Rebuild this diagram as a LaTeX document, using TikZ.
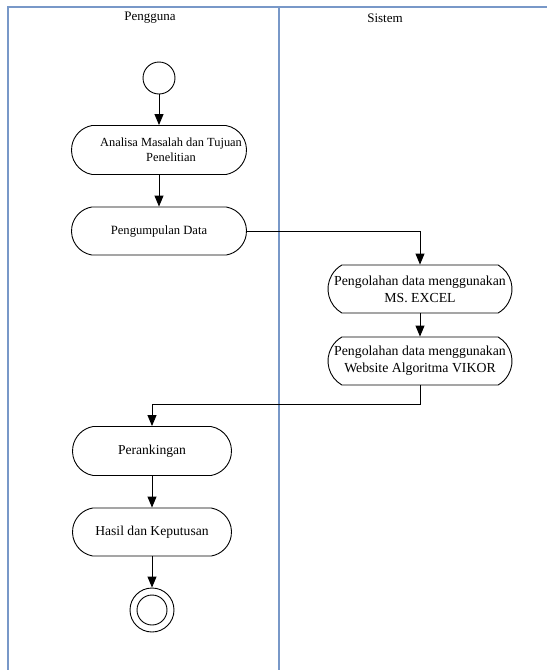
\documentclass[tikz,border=0pt]{standalone}
\usepackage{fontspec}
\setmainfont{Liberation Serif}
\usetikzlibrary{shapes.misc,arrows.meta}
\definecolor{lanec}{RGB}{120,152,200}
\tikzset{
  act/.style={draw=black, line width=0.9pt, rounded rectangle, rounded rectangle arc length=160, inner sep=0pt, align=center},
  actflat/.style={act, rounded rectangle arc length=120},
  flow/.style={draw=black, line width=0.9pt, -{Triangle[width=9pt,length=11pt]}},
  lane/.style={draw=lanec, line width=1.3pt},
  hdr/.style={font=\fontsize{13}{15}\selectfont}
}
\begin{document}
\begin{tikzpicture}[x=1pt,y=-1pt]
\useasboundingbox (0,0) rectangle (547,670);
% swimlanes
\coordinate (tl) at (8,7);
\coordinate (tr) at (547,7);
\coordinate (bl) at (8,670);
\coordinate (tm) at (279,7);
\coordinate (bm) at (279,670);
\draw[lane] (bl) -- (tl) -- (tr);
\draw[lane] (tm) -- (bm);
\node[hdr] (h1) at (150,18) {Pengguna};
\node[hdr] (h2) at (385,18) {Sistem};
% nodes
\node[draw=black, line width=0.9pt, circle, minimum size=32pt, inner sep=0pt] (st) at (159,78) {};
\node[act, minimum width=175pt, minimum height=49pt] (a) at (159,150) {};
\node[align=center, font=\fontsize{12.4}{15}\selectfont] (at) at (171,150) {Analisa Masalah dan Tujuan\\Penelitian};
\node[act, minimum width=175pt, minimum height=48pt, font=\fontsize{12.6}{15}\selectfont] (b) at (159,231) {Pengumpulan Data};
\node[actflat, minimum width=184pt, minimum height=48pt, font=\fontsize{13.8}{17}\selectfont] (c) at (420,289) {Pengolahan data menggunakan\\MS. EXCEL};
\node[actflat, minimum width=184pt, minimum height=48pt, font=\fontsize{13.8}{17}\selectfont] (d) at (420,361) {Pengolahan data menggunakan\\Website Algoritma VIKOR};
\node[act, minimum width=159pt, minimum height=49pt, font=\fontsize{13.6}{16}\selectfont] (e) at (152,451) {Perankingan};
\node[act, minimum width=159pt, minimum height=48pt, font=\fontsize{13.6}{16}\selectfont] (f) at (152,532) {Hasil dan Keputusan};
\node[draw=black, line width=0.9pt, circle, minimum size=44pt, inner sep=0pt] (en) at (152,610) {};
\node[draw=black, line width=0.9pt, circle, minimum size=30pt, inner sep=0pt] (en2) at (152,610) {};
% connectors
\coordinate (k2) at (152,404);
\draw[flow] (st.south) -- (a.north);
\draw[flow] (a.south) -- (b.north);
\draw[flow] (b.east) -- (c.north |- b.east) -- (c.north);
\draw[flow] (c.south) -- (d.north);
\draw[flow] (d.south) -- (d.south |- k2) -- (k2) -- (e.north);
\draw[flow] (e.south) -- (f.north);
\draw[flow] (f.south) -- (en.north);
\end{tikzpicture}
\end{document}
